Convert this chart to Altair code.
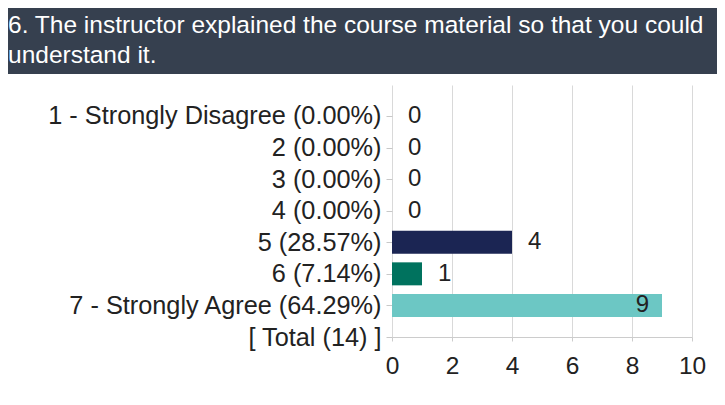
import altair as alt
import pandas as pd

# ---- data ----
categories = [
    "1 - Strongly Disagree (0.00%)",
    "2 (0.00%)",
    "3 (0.00%)",
    "4 (0.00%)",
    "5 (28.57%)",
    "6 (7.14%)",
    "7 - Strongly Agree (64.29%)",
    "[ Total (14) ]",
]
counts = [0, 0, 0, 0, 4, 1, 9]
bar_colors = ["#1b2553", "#1b2553", "#1b2553", "#1b2553", "#1b2553", "#00725e", "#6cc7c4"]
title_lines = [
    "6. The instructor explained the course material so that you could",
    "understand it.",
]
x_ticks = [0, 2, 4, 6, 8, 10]

FONT = "Liberation Sans"
HEADER = "#36404f"
TEXT = "#222222"

df = pd.DataFrame({"label": categories[: len(counts)], "count": counts, "color": bar_colors})
one = alt.Data(values=[{"k": 1}])

y_enc = alt.Y(
    "label:N",
    sort=categories,
    scale=alt.Scale(type="point", domain=categories, padding=0.49, align=1),
    axis=alt.Axis(
        title=None,
        labelFontSize=25.3,
        labelFont=FONT,
        labelColor=TEXT,
        labelLimit=500,
        labelPadding=5,
        tickSize=6,
        tickColor="#c8c8c8",
        domain=False,
        grid=False,
    ),
)
x_enc = alt.X(
    "count:Q",
    scale=alt.Scale(domain=[0, 10], nice=False),
    axis=alt.Axis(
        title=None,
        values=x_ticks,
        grid=True,
        gridColor="#d9d9d9",
        domainColor="#cccccc",
        tickColor="#cccccc",
        tickSize=4,
        labelFontSize=24.5,
        labelFont=FONT,
        labelColor=TEXT,
        labelPadding=13,
        labelFlush=False,
        labelOverlap=False,
    ),
)

bars = alt.Chart(df).mark_bar(size=23).encode(
    x=x_enc, y=y_enc, color=alt.Color("color:N", scale=None)
)

outside = (
    alt.Chart(df)
    .transform_filter("datum.count < 8")
    .mark_text(align="left", baseline="middle", dx=16, fontSize=24, font=FONT, color=TEXT)
    .encode(x=x_enc, y=y_enc, text="count:Q")
)
inside = (
    alt.Chart(df)
    .transform_filter("datum.count >= 8")
    .mark_text(align="right", baseline="middle", dx=-13, fontSize=24, font=FONT, color=TEXT)
    .encode(x=x_enc, y=y_enc, text="count:Q")
)

header = alt.Chart(one).mark_rect(color=HEADER).encode(
    x=alt.value(-384), x2=alt.value(325), y=alt.value(-77), y2=alt.value(-11)
)
t1 = alt.Chart(one).mark_text(
    align="left", baseline="alphabetic", fontSize=24.5, font=FONT, color="white"
).encode(x=alt.value(-384), y=alt.value(-52), text=alt.value(title_lines[0]))
t2 = alt.Chart(one).mark_text(
    align="left", baseline="alphabetic", fontSize=24.5, font=FONT, color="white"
).encode(x=alt.value(-384), y=alt.value(-22), text=alt.value(title_lines[1]))

chart = (
    alt.layer(header, t1, t2, bars, outside, inside)
    .properties(
        width=300,
        height=252,
        padding={"left": 384, "top": 77, "right": 25, "bottom": 56},
        autosize=alt.AutoSizeParams(type="none"),
        background="white",
    )
    .configure_view(stroke=None)
)

chart.save("out.html", embed_options={"renderer": "svg", "actions": False})
